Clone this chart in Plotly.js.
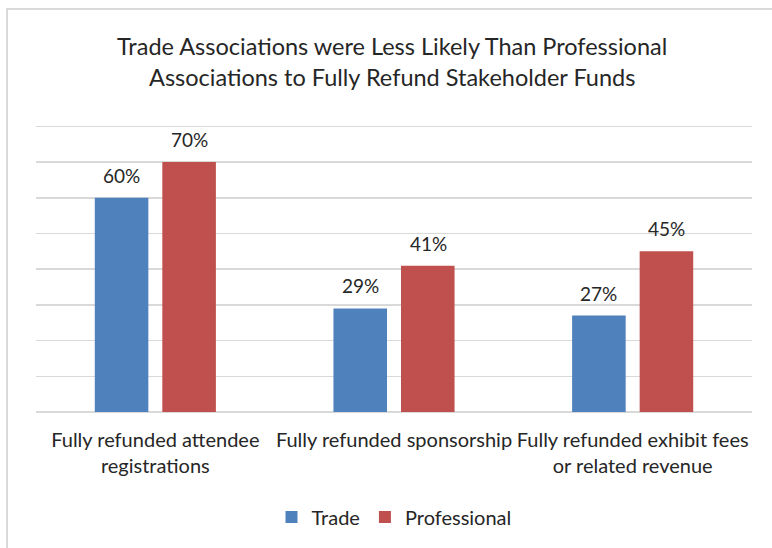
<!DOCTYPE html>
<html>
<head>
<meta charset="utf-8">
<script src="https://cdn.plot.ly/plotly-3.0.1.min.js"></script>
<style>
  html, body { margin: 0; padding: 0; background: #fff; overflow: hidden; }
  #wrap { position: relative; width: 772px; height: 548px; }
  #chart { position: absolute; left: 0; top: 0; width: 772px; height: 548px; }
  #frame { position: absolute; left: 6px; top: 8px; width: 800px; height: 600px;
           border-left: 2px solid #d9d9d9; border-top: 2px solid #d9d9d9; pointer-events: none; }
</style>
</head>
<body>
<div id="wrap">
  <div id="chart"></div>
  <div id="frame"></div>
</div>
<script>
const categories = [
  "Fully refunded attendee<br>registrations",
  "Fully refunded sponsorship",
  "Fully refunded exhibit fees<br>or related revenue"
];
const seriesNames = ["Trade", "Professional"];
const tradeValues = [60, 29, 27];
const professionalValues = [70, 41, 45];
const titleText = "Trade Associations were Less Likely Than Professional<br>Associations to Fully Refund Stakeholder Funds";

const FONT = "Lato, 'Open Sans', sans-serif";
const colors = ["#4F81BD", "#C0504D"];
const allValues = [tradeValues, professionalValues];

const traces = allValues.map((vals, i) => ({
  type: "bar",
  name: seriesNames[i],
  x: categories,
  y: vals,
  marker: { color: colors[i] },
  hoverinfo: "skip"
}));

const shifts = [-34, 34];
const annotations = [];
allValues.forEach((vals, i) => {
  vals.forEach((v, j) => {
    annotations.push({
      x: categories[j], y: v, xref: "x", yref: "y",
      text: v + "%", showarrow: false,
      xanchor: "center", yanchor: "bottom",
      xshift: shifts[i], yshift: 9,
      font: { family: FONT, size: 19, color: "#262626" }
    });
  });
});

const layout = {
  width: 772, height: 548,
  margin: { l: 36, r: 20, t: 125, b: 136, pad: 0 },
  paper_bgcolor: "#ffffff", plot_bgcolor: "#ffffff",
  title: {
    text: titleText,
    font: { family: FONT, size: 23.5, color: "#262626" },
    x: 0.508, xanchor: "center",
    y: 1 - 55 / 548, yanchor: "top", yref: "container"
  },
  barmode: "group",
  bargap: 0.434,
  bargroupgap: 0.207,
  xaxis: {
    type: "category",
    showgrid: false, showline: false, zeroline: false,
    ticks: "", ticklabelstandoff: 14,
    tickfont: { family: FONT, size: 20, color: "#262626" }
  },
  yaxis: {
    range: [0, 80.4], dtick: 10, tick0: 0,
    showticklabels: false, ticks: "",
    showgrid: true, gridcolor: "#d9d9d9", gridwidth: 1.5,
    zeroline: true, zerolinecolor: "#d9d9d9", zerolinewidth: 1.5,
    showline: false, fixedrange: true
  },
  showlegend: true,
  legend: {
    orientation: "h",
    x: 0.5, xanchor: "center", xref: "paper",
    y: 1 - 517 / 548, yanchor: "middle", yref: "container",
    font: { family: FONT, size: 20, color: "#262626" },
    itemwidth: 30, traceorder: "normal"
  },
  annotations: annotations
};

Plotly.newPlot("chart", traces, layout, { displayModeBar: false, staticPlot: true });
</script>
</body>
</html>
